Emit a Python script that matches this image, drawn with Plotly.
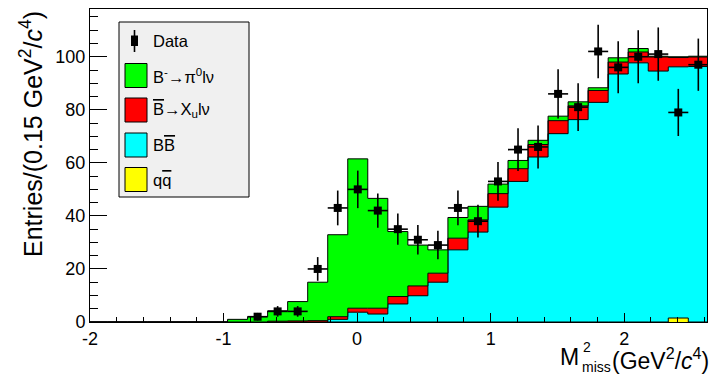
import numpy as np
import plotly.graph_objects as go

# ---- histogram binning (missing-mass squared, GeV^2/c^4) ----
bin_lo = -2.02
bin_width = 0.15
n_bins = 31

# ---- stacked MC components, entries per bin ----
green_pi0lnu = [0, 0, 0, 0, 0, 0, 0,
                1.0, 2.0, 3.9, 7.3, 14.5, 30.9, 56.3, 41.4, 24.5, 15.4, 8.8, 7.8, 5.1,
                3.6, 3.1, 1.6, 1.7, 1.5, 1.0, 1.6, 1.3, 0.3, 0.3, 0.3]
red_xulnu = [0, 0, 0, 0, 0, 0, 0,
             0, 0, 0.3, 0.4, 0.5, 1.0, 1.5, 2.2, 2.8, 3.7, 3.4, 4.4, 4.6,
             5.1, 4.8, 4.7, 4.9, 5.2, 4.5, 4.5, 4.1, 5.3, 3.5, 3.6]
cyan_bbbar = [0, 0, 0, 0, 0, 0, 0,
              0, 0, 0, 0, 0, 1.0, 3.7, 3.0, 6.8, 9.9, 15.0, 27.2, 33.9,
              43.3, 53.0, 62.2, 71.0, 76.3, 82.8, 93.5, 97.7, 94.6, 94.7, 96.3]
yellow_qqbar = [0] * 29 + [1.5, 0]

# ---- data counts (None = no point drawn) ----
data_counts = [None] * 8 + [2, 4, 4, 20, 43, 50, 42, 35, 31, 29, 43, 38, 53, 65, 66,
                            86, 81, 102, 96, 100, 101, 79, 97]

x_tickvals = [-2, -1, 0, 1, 2]
x_ticktext = ["-2", "-1", "0", "1", "2"]
y_tickvals = [0, 20, 40, 60, 80, 100]
y_ticktext = ["0", "20", "40", "60", "80", "100"]

# ---- geometry of the figure (pixels) ----
W, H = 718, 374
ML, MR, MT, MB = 90, 11, 9, 52
PW, PH = W - ML - MR, H - MT - MB


def px_x(p):
    return (p - ML) / PW


def px_y(p):
    return (H - MB - p) / PH


FONT = "Liberation Sans, Arial, sans-serif"

edges = bin_lo + bin_width * np.arange(n_bins + 1)
centers = 0.5 * (edges[:-1] + edges[1:])

layers = [
    ("qqbar", yellow_qqbar, "#ffff00"),
    ("BBbar", cyan_bbbar, "#00ffff"),
    ("Xulnu", red_xulnu, "#ff0000"),
    ("pi0lnu", green_pi0lnu, "#00ff00"),
]

fig = go.Figure()
cum = np.zeros(n_bins)
for i, (name, vals, col) in enumerate(layers):
    cum = cum + np.asarray(vals, dtype=float)
    ystep = np.append(cum, cum[-1])
    fig.add_trace(go.Scatter(
        x=edges, y=ystep, mode="lines", line=dict(shape="hv", color="black", width=1),
        fill="tozeroy" if i == 0 else "tonexty", fillcolor=col, name=name,
        showlegend=False, hoverinfo="skip",
    ))

dc = np.array([np.nan if v is None else v for v in data_counts], dtype=float)
fig.add_trace(go.Scatter(
    x=centers, y=dc, mode="markers",
    marker=dict(symbol="square", size=8, color="black"),
    error_y=dict(type="data", array=np.sqrt(np.nan_to_num(dc)), width=0, thickness=1.6, color="black"),
    error_x=dict(type="data", array=np.full(n_bins, bin_width / 2), width=0, thickness=1.6, color="black"),
    showlegend=False, name="Data",
))

fig.update_xaxes(
    range=[-2, 2.62], tickvals=x_tickvals, ticktext=x_ticktext,
    ticks="inside", ticklen=9, tickwidth=1, tickcolor="black",
    minor=dict(dtick=0.2, ticks="inside", ticklen=5, tickwidth=1, tickcolor="black"),
    showline=True, linecolor="black", linewidth=1, mirror=True,
    showgrid=False, zeroline=False,
    tickfont=dict(family=FONT, size=18, color="black"),
)
fig.update_yaxes(
    range=[0, 118], tickvals=y_tickvals, ticktext=y_ticktext,
    ticks="inside", ticklen=17, tickwidth=1, tickcolor="black",
    minor=dict(dtick=5, ticks="inside", ticklen=8, tickwidth=1, tickcolor="black"),
    showline=True, linecolor="black", linewidth=1, mirror=True,
    showgrid=False, zeroline=False,
    tickfont=dict(family=FONT, size=18, color="black"),
)


def note(text, x, y, xa, ya, size, angle=0):
    return dict(text=text, textangle=angle, xref="paper", yref="paper",
                x=px_x(x), y=px_y(y), xanchor=xa, yanchor=ya, showarrow=False,
                font=dict(family=FONT, size=size, color="black"))


annotations = [
    # y-axis title, aligned to the top of the axis
    note("Entries/(0.15 GeV<sup>2</sup>/<i>c</i><sup>4</sup>)", 31, 9, "center", "top", 25, -90),
    # x-axis title, aligned to the right end of the axis: M with stacked 2 / miss
    note("M", 581, 357, "right", "middle", 23),
    note("2", 581, 347, "left", "middle", 14),
    note("miss", 580, 367, "left", "middle", 14),
    note("(GeV<sup>2</sup>/<i>c</i><sup>4</sup>)", 711, 359, "right", "middle", 23),
]

# ---- legend box ----
shapes = [dict(type="rect", xref="paper", yref="paper", x0=px_x(119), x1=px_x(249),
               y0=px_y(197), y1=px_y(22), fillcolor="#f0f0f0", line=dict(color="black", width=1),
               layer="above")]
legend_rows = [
    ("Data", None, 40.5),
    ("B<sup>-</sup>→π<sup>0</sup>lν", "#00ff00", 75.5),
    ("<span style='text-decoration:overline'>B</span>→X<sub>u</sub>lν", "#ff0000", 110),
    ("B<span style='text-decoration:overline'>B</span>", "#00ffff", 145),
    ("q<span style='text-decoration:overline'>q</span>", "#ffff00", 179.5),
]
for label, col, yc in legend_rows:
    if col is None:
        shapes.append(dict(type="line", xref="paper", yref="paper", x0=px_x(134.5), x1=px_x(134.5),
                           y0=px_y(52), y1=px_y(30), line=dict(color="black", width=1.6), layer="above"))
        shapes.append(dict(type="rect", xref="paper", yref="paper", x0=px_x(131), x1=px_x(138),
                           y0=px_y(46), y1=px_y(35.5), fillcolor="black", line=dict(width=0), layer="above"))
    else:
        shapes.append(dict(type="rect", xref="paper", yref="paper", x0=px_x(125), x1=px_x(147),
                           y0=px_y(yc + 12), y1=px_y(yc - 12), fillcolor=col,
                           line=dict(color="black", width=1), layer="above"))
    annotations.append(note(label, 151, yc, "left", "middle", 16.5))

fig.update_layout(
    width=W, height=H, margin=dict(l=ML, r=MR, t=MT, b=MB),
    paper_bgcolor="white", plot_bgcolor="white",
    showlegend=False, annotations=annotations, shapes=shapes,
)

fig.write_html("out.html")
